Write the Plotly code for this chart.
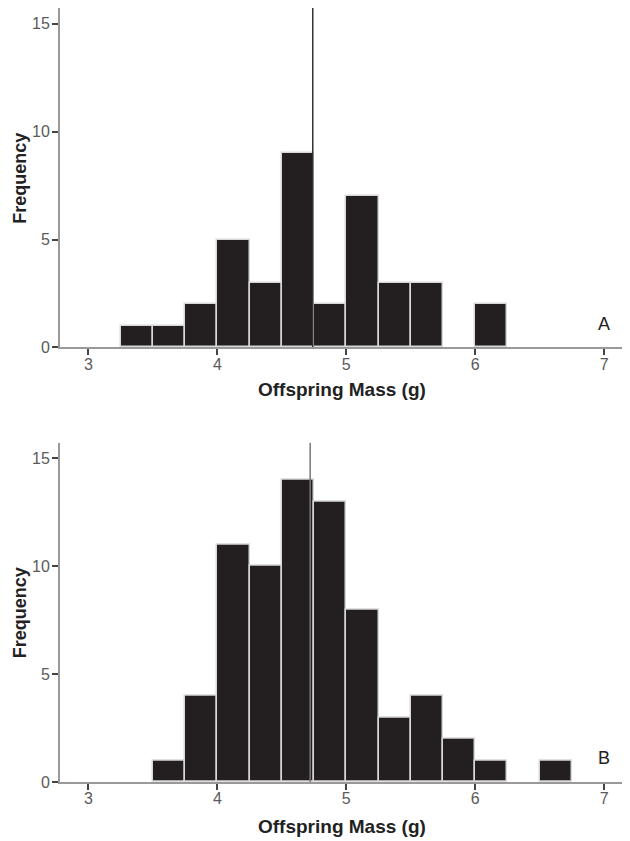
import plotly.graph_objects as go
from plotly.subplots import make_subplots

# Histogram bins (left edges, width 0.25 g) and counts
bin_width = 0.25
bin_left_a = [3.25, 3.5, 3.75, 4.0, 4.25, 4.5, 4.75, 5.0, 5.25, 5.5, 5.75, 6.0]
counts_a = [1, 1, 2, 5, 3, 9, 2, 7, 3, 3, 0, 2]
bin_left_b = [3.5, 3.75, 4.0, 4.25, 4.5, 4.75, 5.0, 5.25, 5.5, 5.75, 6.0, 6.25, 6.5]
counts_b = [1, 4, 11, 10, 14, 13, 8, 3, 4, 2, 1, 0, 1]
mean_a = 4.74
mean_b = 4.72
panel_labels = ["A", "B"]
x_ticks = [3, 4, 5, 6, 7]
y_ticks = [0, 5, 10, 15]
x_title = "Offspring Mass (g)"
y_title = "Frequency"

font_fam = "Liberation Sans, Arial, sans-serif"
x_range = [2.78, 7.2]
y_top = 15.72
domains = [[0.5614, 1.0], [0.0, 0.4384]]
xtitle_y = [0.5065, -0.0581]

fig = make_subplots(rows=2, cols=1)

for i, (lefts, counts, mean, lab, lcol) in enumerate(
        [(bin_left_a, counts_a, mean_a, panel_labels[0], "#333333"),
         (bin_left_b, counts_b, mean_b, panel_labels[1], "#777777")], start=1):
    xr = "x" if i == 1 else "x%d" % i
    yr = "y" if i == 1 else "y%d" % i
    fig.add_trace(go.Scatter(x=[mean, mean], y=[0, y_top], mode="lines",
                             line=dict(color=lcol, width=1.5), showlegend=False,
                             hoverinfo="skip"), row=i, col=1)
    fig.add_trace(go.Bar(x=[l + bin_width / 2 for l in lefts], y=counts,
                         width=bin_width, marker=dict(color="#231f20",
                         line=dict(color="#d8d8d8",
                                   width=[1.5 if c > 0 else 0 for c in counts])),
                         showlegend=False), row=i, col=1)
    fig.add_annotation(x=7, y=1.1, text=lab, showarrow=False, xref=xr, yref=yr,
                       yanchor="middle", xanchor="center",
                       font=dict(family=font_fam, size=18, color="#222222"))
    fig.add_annotation(x=0.4947, y=xtitle_y[i - 1], xref="paper", yref="paper",
                       text="<b>%s</b>" % x_title, showarrow=False,
                       xanchor="center", yanchor="middle",
                       font=dict(family=font_fam, size=19, color="#222222"))
    fig.add_annotation(x=-0.0702, y=sum(domains[i - 1]) / 2, xref="paper", yref="paper",
                       text="<b>%s</b>" % y_title, showarrow=False, textangle=-90,
                       xanchor="center", yanchor="middle",
                       font=dict(family=font_fam, size=18, color="#222222"))
    fig.update_xaxes(range=x_range, tickvals=x_ticks, ticks="outside", ticklen=6,
                     tickwidth=1.5, tickcolor="#444444", showline=True,
                     linecolor="#999999", linewidth=2, showgrid=False, zeroline=False,
                     automargin=False, ticklabelstandoff=-5,
                     tickfont=dict(family=font_fam, size=16, color="#5a5a5a"),
                     row=i, col=1)
    fig.update_yaxes(range=[0, y_top], tickvals=y_ticks, ticks="outside", ticklen=6,
                     tickwidth=1.5, tickcolor="#444444", showline=True,
                     linecolor="#999999", linewidth=2, showgrid=False, zeroline=False,
                     automargin=False, domain=domains[i - 1], ticklabelstandoff=-1,
                     tickfont=dict(family=font_fam, size=16, color="#5a5a5a"),
                     row=i, col=1)

# the page body adds an 8 px offset at the top-left; compensate in the margins
fig.update_layout(
    width=622, height=833,
    margin=dict(l=52, r=0, t=0, b=59),
    plot_bgcolor="white", paper_bgcolor="white",
    bargap=0,
)

fig.write_html("out.html")
